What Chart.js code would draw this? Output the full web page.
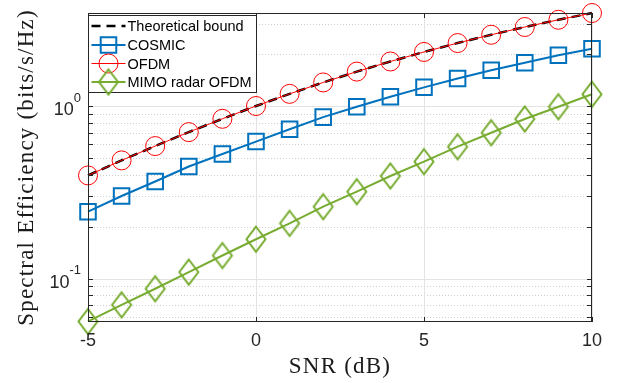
<!DOCTYPE html>
<html>
<head>
<meta charset="utf-8">
<script src="https://cdn.jsdelivr.net/npm/chart.js@4.4.1/dist/chart.umd.min.js"></script>
<style>
  html, body { margin: 0; padding: 0; background: #fff; }
  #wrap { width: 618px; height: 383px; }
</style>
</head>
<body>
<div id="wrap"><canvas id="chart" width="618" height="383"></canvas></div>
<script>
// values
const snrDb = [-5, -4, -3, -2, -1, 0, 1, 2, 3, 4, 5, 6, 7, 8, 9, 10];
const boundValues = [0.396, 0.484, 0.586, 0.706, 0.843, 1.0, 1.176, 1.370, 1.583, 1.812, 2.057, 2.317, 2.588, 2.870, 3.161, 3.459];
const cosmicValues = [0.244, 0.301, 0.365, 0.446, 0.527, 0.622, 0.733, 0.862, 0.991, 1.132, 1.283, 1.445, 1.612, 1.781, 1.968, 2.147];
const ofdmValues = [0.396, 0.484, 0.586, 0.706, 0.843, 1.0, 1.176, 1.370, 1.583, 1.812, 2.057, 2.317, 2.588, 2.870, 3.161, 3.459];
const mimoValues = [0.0564, 0.0704, 0.0873, 0.109, 0.136, 0.169, 0.209, 0.261, 0.319, 0.393, 0.476, 0.581, 0.700, 0.841, 0.991, 1.169];

const seriesNames = ['Theoretical bound', 'COSMIC', 'OFDM', 'MIMO radar OFDM'];
const xTicks = [-5, 0, 5, 10];
const xTickLabels = ['-5', '0', '5', '10'];
const yMajorTicks = [0.1, 1];
const yMajorLabels = [['10', '-1'], ['10', '0']];
const yMinorTicks = [0.06, 0.07, 0.08, 0.09, 0.2, 0.3, 0.4, 0.5, 0.6, 0.7, 0.8, 0.9, 2, 3];
const yMin = 0.056;
const yMax = 3.46;

const axisColor = '#262626';
const sansFont = '"Liberation Sans", Arial, sans-serif';
const serifFont = '"Liberation Serif", "Times New Roman", serif';

function toPoints(values) {
    return snrDb.map((x, i) => ({ x: x, y: values[i] }));
}

// MATLAB style diamond is a bit taller than wide
function makeDiamond(color) {
    const c = document.createElement('canvas');
    c.width = 24;
    c.height = 30;
    const g = c.getContext('2d');
    g.strokeStyle = color;
    g.lineWidth = 2;
    g.beginPath();
    g.moveTo(12, 2.5);
    g.lineTo(21.5, 15);
    g.lineTo(12, 27.5);
    g.lineTo(2.5, 15);
    g.closePath();
    g.stroke();
    return c;
}
const diamondMarker = makeDiamond('#77AC30');

const matlabAxes = {
    id: 'matlabAxes',
    beforeDatasetsDraw(chart) {
        const ctx = chart.ctx;
        const area = chart.chartArea;
        const xs = chart.scales.x;
        const ys = chart.scales.y;
        ctx.save();
        // minor dotted grid
        ctx.strokeStyle = '#cfcfcf';
        ctx.lineWidth = 1;
        ctx.setLineDash([1, 2]);
        yMinorTicks.forEach(v => {
            const y = Math.round(ys.getPixelForValue(v)) + 0.5;
            ctx.beginPath();
            ctx.moveTo(area.left, y);
            ctx.lineTo(area.right, y);
            ctx.stroke();
        });
        // major solid grid
        ctx.setLineDash([]);
        ctx.strokeStyle = '#e3e3e3';
        yMajorTicks.forEach(v => {
            const y = Math.round(ys.getPixelForValue(v)) + 0.5;
            ctx.beginPath();
            ctx.moveTo(area.left, y);
            ctx.lineTo(area.right, y);
            ctx.stroke();
        });
        xTicks.forEach(v => {
            const x = Math.round(xs.getPixelForValue(v)) + 0.5;
            ctx.beginPath();
            ctx.moveTo(x, area.top);
            ctx.lineTo(x, area.bottom);
            ctx.stroke();
        });
        ctx.restore();
    },
    afterDatasetsDraw(chart) {
        const ctx = chart.ctx;
        const area = chart.chartArea;
        const xs = chart.scales.x;
        const ys = chart.scales.y;
        ctx.save();
        // box
        ctx.strokeStyle = axisColor;
        ctx.lineWidth = 1;
        ctx.strokeRect(Math.round(area.left) + 0.5, Math.round(area.top) + 0.5,
            Math.round(area.right - area.left) - 1, Math.round(area.bottom - area.top) - 1);

        // inward ticks
        ctx.beginPath();
        yMajorTicks.concat(yMinorTicks).forEach(v => {
            const y = Math.round(ys.getPixelForValue(v)) + 0.5;
            ctx.moveTo(area.left, y);
            ctx.lineTo(area.left + 5, y);
            ctx.moveTo(area.right, y);
            ctx.lineTo(area.right - 5, y);
        });
        xTicks.forEach(v => {
            const x = Math.round(xs.getPixelForValue(v)) + 0.5;
            ctx.moveTo(x, area.bottom);
            ctx.lineTo(x, area.bottom - 5);
            ctx.moveTo(x, area.top);
            ctx.lineTo(x, area.top + 5);
        });
        ctx.stroke();

        // x tick labels
        ctx.fillStyle = axisColor;
        ctx.font = '18px ' + sansFont;
        ctx.textAlign = 'center';
        ctx.textBaseline = 'middle';
        xTicks.forEach((v, i) => {
            ctx.fillText(xTickLabels[i], xs.getPixelForValue(v), area.bottom + 19);
        });

        // y tick labels with superscript exponent
        yMajorTicks.forEach((v, i) => {
            const y = ys.getPixelForValue(v);
            const base = yMajorLabels[i][0];
            const exp = yMajorLabels[i][1];
            ctx.font = '13px ' + sansFont;
            const expW = ctx.measureText(exp).width;
            const right = area.left - 7;
            ctx.textAlign = 'right';
            ctx.fillText(exp, right, y - 8);
            ctx.font = '18px ' + sansFont;
            ctx.fillText(base, right - expW, y + 4);
        });

        // axis titles
        ctx.fillStyle = '#1a1a1a';
        ctx.font = '23px ' + serifFont;
        ctx.letterSpacing = '1.2px';
        ctx.textAlign = 'center';
        ctx.textBaseline = 'alphabetic';
        ctx.fillText('SNR (dB)', (area.left + area.right) / 2, 373);
        ctx.translate(33, (area.top + area.bottom) / 2);
        ctx.rotate(-Math.PI / 2);
        ctx.fillText('Spectral Efficiency (bits/s/Hz)', 0, 0);
        ctx.restore();
    },
    afterDraw(chart) {
        // legend box in the top left corner of the axes
        const ctx = chart.ctx;
        const area = chart.chartArea;
        const left = Math.round(area.left) + 0.5;
        const top = Math.round(area.top) + 2.5;
        const w = 168, h = 77;
        ctx.save();
        ctx.fillStyle = '#fff';
        ctx.fillRect(left, top, w, h);
        ctx.strokeStyle = axisColor;
        ctx.lineWidth = 1;
        ctx.strokeRect(left, top, w, h);
        const rows = [26, 45, 63.5, 82];
        chart.data.datasets.forEach((ds, i) => {
            const y = rows[i];
            ctx.save();
            ctx.strokeStyle = ds.borderColor;
            ctx.lineWidth = ds.borderWidth;
            ctx.setLineDash(ds.borderDash || []);
            ctx.beginPath();
            ctx.moveTo(left + 3, y);
            ctx.lineTo(left + 37, y);
            ctx.stroke();
            ctx.setLineDash([]);
            if (ds.pointRadius > 0) {
                ctx.fillStyle = 'rgba(0,0,0,0)';
                ctx.lineWidth = ds.pointBorderWidth;
                Chart.helpers.drawPoint(ctx, {
                    pointStyle: ds.pointStyle,
                    radius: ds.pointRadius,
                    rotation: 0,
                    borderWidth: ds.pointBorderWidth
                }, left + 20, y);
            }
            ctx.restore();
            ctx.fillStyle = '#000';
            ctx.font = '14.5px ' + sansFont;
            ctx.textAlign = 'left';
            ctx.textBaseline = 'middle';
            ctx.fillText(ds.label, left + 39, y + 1);
        });
        ctx.restore();
    }
};

new Chart(document.getElementById('chart'), {
    type: 'line',
    data: {
        datasets: [
            {
                label: seriesNames[0],
                data: toPoints(boundValues),
                borderColor: '#000000',
                borderWidth: 2.5,
                borderDash: [9, 6],
                pointRadius: 0,
                order: 3
            },
            {
                label: seriesNames[1],
                data: toPoints(cosmicValues),
                borderColor: '#0072BD',
                borderWidth: 2,
                pointStyle: 'rect',
                pointRadius: 11,
                pointBorderWidth: 2,
                pointBorderColor: '#0072BD',
                pointBackgroundColor: 'rgba(0,0,0,0)',
                order: 2
            },
            {
                label: seriesNames[2],
                data: toPoints(ofdmValues),
                borderColor: '#FF0000',
                borderWidth: 1,
                pointStyle: 'circle',
                pointRadius: 9.5,
                pointBorderWidth: 1,
                pointBorderColor: '#FF0000',
                pointBackgroundColor: 'rgba(0,0,0,0)',
                order: 1
            },
            {
                label: seriesNames[3],
                data: toPoints(mimoValues),
                borderColor: '#77AC30',
                borderWidth: 2,
                pointStyle: diamondMarker,
                pointRadius: 10,
                pointBorderWidth: 2,
                pointBorderColor: '#77AC30',
                pointBackgroundColor: 'rgba(0,0,0,0)',
                order: 0
            }
        ]
    },
    options: {
        responsive: false,
        devicePixelRatio: 1,
        animation: false,
        clip: false,
        tension: 0,
        layout: { padding: { left: 88, top: 13, right: 26, bottom: 61 } },
        plugins: {
            legend: { display: false },
            tooltip: { enabled: false }
        },
        scales: {
            x: { type: 'linear', min: -5, max: 10, display: false },
            y: { type: 'logarithmic', min: yMin, max: yMax, display: false }
        }
    },
    plugins: [matlabAxes]
});
</script>
</body>
</html>
